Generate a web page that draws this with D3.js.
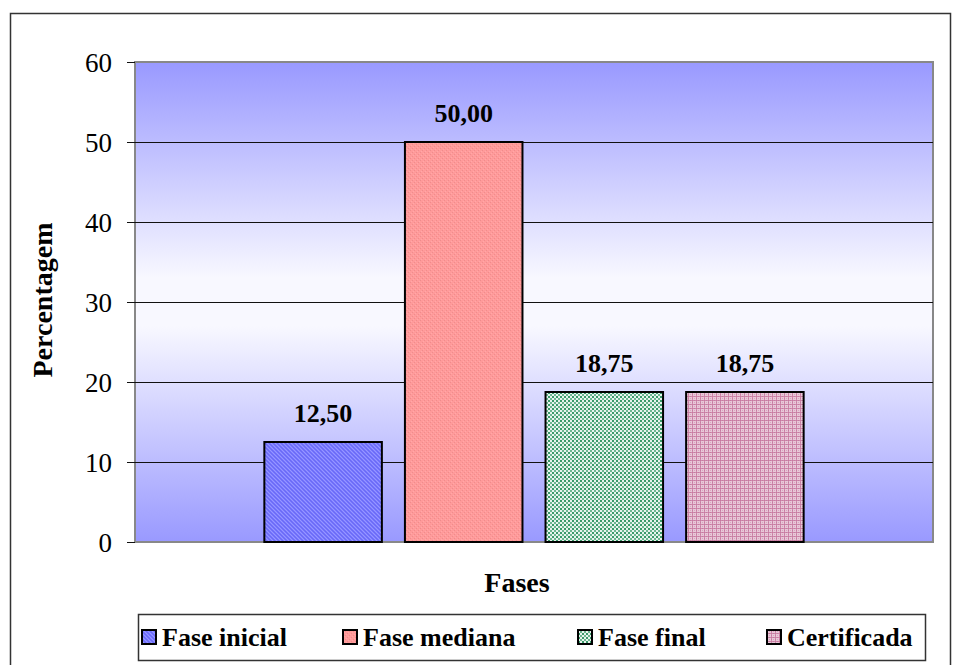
<!DOCTYPE html>
<html>
<head>
<meta charset="utf-8">
<script src="https://cdn.jsdelivr.net/npm/d3@7"></script>
<style>
  body { margin: 0; background: #fff; }
  svg text { font-family: 'Liberation Serif', 'Times New Roman', 'DejaVu Serif', serif; }
</style>
</head>
<body>
<div id="chart"></div>
<script>
const phases = ['Fase inicial', 'Fase mediana', 'Fase final', 'Certificada']
const values = [12.5, 50.0, 18.75, 18.75]
const yTicks = [0, 10, 20, 30, 40, 50, 60]

const width = 962
const height = 665
const plot = { left: 135, right: 933, top: 62, bottom: 542 }
const serif = "'Liberation Serif', 'Times New Roman', 'DejaVu Serif', serif"

const svg = d3.select('#chart')
.append('svg')
    .attr('width', width)
    .attr('height', height)
    .attr('font-family', serif)

const defs = svg.append('defs')

// plot background gradient: blue at the edges, white in the middle
const grad = defs.append('linearGradient')
    .attr('id', 'bg')
    .attr('x1', 0).attr('y1', 0).attr('x2', 0).attr('y2', 1)
grad.append('stop').attr('offset', '0%').attr('stop-color', '#9999ff')
grad.append('stop').attr('offset', '45%').attr('stop-color', '#f8f8ff')
grad.append('stop').attr('offset', '55%').attr('stop-color', '#f8f8ff')
grad.append('stop').attr('offset', '100%').attr('stop-color', '#9999ff')

// small fill patterns for the bars
const addPattern = (id, bg, cells) => {
    const p = defs.append('pattern')
        .attr('id', id)
        .attr('patternUnits', 'userSpaceOnUse')
        .attr('width', 4).attr('height', 4)
    p.append('rect').attr('width', 4).attr('height', 4).attr('fill', bg)
    cells.forEach(([x, y, c]) => {
        p.append('rect').attr('x', x).attr('y', y)
            .attr('width', 1).attr('height', 1).attr('fill', c)
    })
}
addPattern('p0', '#7878ff', [[0, 0, '#9797ff'], [1, 1, '#9797ff'], [2, 2, '#9797ff'], [3, 3, '#9797ff'], [2, 0, '#6a6af4'], [3, 1, '#6a6af4'], [0, 2, '#6a6af4'], [1, 3, '#6a6af4']])
addPattern('p1', '#ff9a9a', [[0, 0, '#f08c8c'], [2, 2, '#f08c8c'], [1, 3, '#ffa8a8'], [3, 1, '#ffa8a8']])
addPattern('p2', '#e8f4ee', [[0, 0, '#3a9a6a'], [1, 0, '#3a9a6a'], [0, 1, '#3a9a6a'], [1, 1, '#3a9a6a'], [2, 2, '#6cb690'], [3, 2, '#6cb690'], [2, 3, '#6cb690'], [3, 3, '#6cb690']])
addPattern('p3', '#e8c8d8', [[0, 0, '#c77aa0'], [1, 0, '#cf8aac'], [2, 0, '#c77aa0'], [3, 0, '#cf8aac'], [0, 1, '#cf8aac'], [0, 2, '#c77aa0'], [0, 3, '#cf8aac'], [2, 2, '#dba6c0']])

const fills = phases.map((d, i) => `url(#p${i})`)

// outer chart frame
svg.append('rect')
    .attr('x', 10.5).attr('y', 13.5)
    .attr('width', 940).attr('height', 660)
    .attr('fill', '#fff')
    .attr('stroke', '#333')
    .attr('stroke-width', 1.5)

const xScale = d3.scaleBand()
    .domain(phases)
    .range([plot.left, plot.right])
    .paddingInner(0.164)
    .paddingOuter(0.92)

const yScale = d3.scaleLinear()
    .domain([0, 60])
    .range([plot.bottom, plot.top])

// plot area
svg.append('rect')
    .attr('x', plot.left).attr('y', plot.top)
    .attr('width', plot.right - plot.left)
    .attr('height', plot.bottom - plot.top)
    .attr('fill', 'url(#bg)')
    .attr('stroke', '#888')
    .attr('stroke-width', 2)

// gridlines
svg.selectAll()
.data(yTicks.filter((t) => t > 0 && t < 60))
.enter()
.append('line')
    .attr('x1', plot.left)
    .attr('x2', plot.right)
    .attr('y1', (d) => yScale(d) + 0.5)
    .attr('y2', (d) => yScale(d) + 0.5)
    .attr('stroke', '#111')
    .attr('stroke-width', 1)

// y axis
const yAxis = d3.axisLeft(yScale)
    .tickValues(yTicks)
    .tickSize(8)
    .tickPadding(15)
    .tickFormat(d3.format('d'))

const yAxisG = svg.append('g')
    .attr('transform', `translate(${plot.left},0)`)
    .call(yAxis)
    .attr('font-family', serif)
    .attr('font-size', 27)
yAxisG.select('.domain').remove()
yAxisG.selectAll('line').attr('stroke', '#111')
yAxisG.selectAll('text')
    .attr('fill', '#000')
    .attr('dy', '0.34em')

// bars
svg.selectAll()
.data(values)
.enter()
.append('rect')
    .attr('x', (d, i) => xScale(phases[i]))
    .attr('y', (d) => yScale(d))
    .attr('width', xScale.bandwidth())
    .attr('height', (d) => yScale(0) - yScale(d))
    .attr('fill', (d, i) => fills[i])
    .attr('stroke', '#000')
    .attr('stroke-width', 2)

// value labels
svg.selectAll()
.data(values)
.enter()
.append('text')
    .attr('x', (d, i) => xScale(phases[i]) + xScale.bandwidth() / 2)
    .attr('y', (d) => yScale(d) - 20)
    .attr('text-anchor', 'middle')
    .attr('font-size', 26)
    .attr('font-weight', 'bold')
    .text((d) => d.toFixed(2).replace('.', ','))

// axis titles
svg.append('text')
    .attr('x', (plot.left + plot.right) / 2 - 17)
    .attr('y', 592)
    .attr('text-anchor', 'middle')
    .attr('font-size', 28)
    .attr('font-weight', 'bold')
    .text('Fases')

svg.append('text')
    .attr('transform', `translate(52,300) rotate(-90)`)
    .attr('text-anchor', 'middle')
    .attr('font-size', 28)
    .attr('font-weight', 'bold')
    .text('Percentagem')

// legend
const legendX = [142, 343, 578, 767]
const legend = svg.append('g')
legend.append('rect')
    .attr('x', 138.5).attr('y', 614.5)
    .attr('width', 787).attr('height', 46)
    .attr('fill', '#fff')
    .attr('stroke', '#333')
    .attr('stroke-width', 1.5)

const items = legend.selectAll()
.data(phases)
.enter()
.append('g')
    .attr('transform', (d, i) => `translate(${legendX[i]},637)`)

items.append('rect')
    .attr('x', 0).attr('y', -7)
    .attr('width', 14).attr('height', 14)
    .attr('fill', (d, i) => fills[i])
    .attr('stroke', '#000')
    .attr('stroke-width', 2)

items.append('text')
    .attr('x', 20)
    .attr('y', 9)
    .attr('font-size', 26)
    .attr('font-weight', 'bold')
    .text((d) => d)
</script>
</body>
</html>
